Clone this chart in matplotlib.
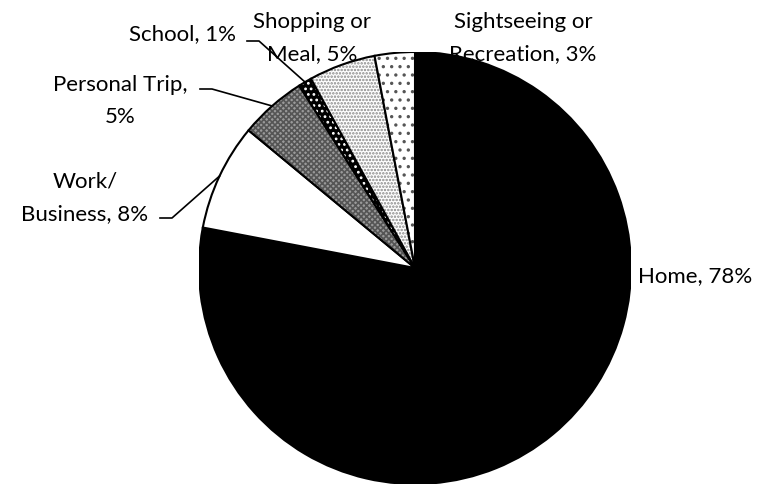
import numpy as np
import matplotlib
matplotlib.use('Agg')
import matplotlib.pyplot as plt
from matplotlib.patches import Wedge

values = [78, 8, 5, 1, 5, 3]
pct_text = ['Home, 78%', 'Work/\nBusiness, 8%', 'Personal Trip,\n5%', 'School, 1%',
            'Shopping or\nMeal, 5%', 'Sightseeing or\nRecreation, 3%']

# face colour, hatch, hatch colour
styles = [('black', None, None),
          ('white', None, None),
          ('#9a9a9a', 'xxxxxx', '#555555'),
          ('black', '...', 'white'),
          ('white', '.....', '#888888'),
          ('white', '..', '#555555')]

plt.rcParams['font.family'] = ['Lato', 'DejaVu Sans']
plt.rcParams['hatch.linewidth'] = 1.2

fig = plt.figure(figsize=(7.68, 4.95), dpi=100)
W, H = 768, 495
cx, cy, r = 415, 268, 216
ax = fig.add_axes([(cx - r) / W, (H - cy - r) / H, 2 * r / W, 2 * r / H])
ax.set_xlim(-1, 1)
ax.set_ylim(-1, 1)
ax.set_aspect('equal')
ax.axis('off')

total = float(sum(values))
start = 90.0
mids = []
for v, (fc, hatch, hc) in zip(values, styles):
    sweep = 360.0 * v / total
    t1, t2 = start - sweep, start
    ax.add_patch(Wedge((0, 0), 1, t1, t2, facecolor=fc, edgecolor='none'))
    if hatch:
        ax.add_patch(Wedge((0, 0), 1, t1, t2, facecolor='none', edgecolor=hc,
                           hatch=hatch, linewidth=0))
    ax.add_patch(Wedge((0, 0), 1, t1, t2, facecolor='none', edgecolor='black', linewidth=1.5))
    mids.append(np.deg2rad((t1 + t2) / 2))
    start = t1


def px(x, y):
    return (x - cx) / r, (cy - y) / r


# label placement (pixel layout), alignment, leader elbow (pixel) or None
layout = [((638, 276), 'left', None),
          ((85, 198), 'center', (160, 218)),
          ((120, 101), 'center', (200, 89)),
          ((183, 34), 'center', (247, 41)),
          ((312, 38), 'center', None),
          ((523, 38), 'center', None)]

for txt, mid, ((lx, ly), ha, elbow) in zip(pct_text, mids, layout):
    x, y = px(lx, ly)
    ax.text(x, y, txt, ha=ha, va='center', fontsize=16, linespacing=1.75)
    if elbow:
        ex, ey = px(*elbow)
        hx = ex + 12 / r
        tx, ty = np.cos(mid) * 1.0, np.sin(mid) * 1.0
        ax.plot([ex, hx, tx], [ey, ey, ty], color='black', lw=1.2, clip_on=False)

fig.savefig('out.png', dpi=100)
